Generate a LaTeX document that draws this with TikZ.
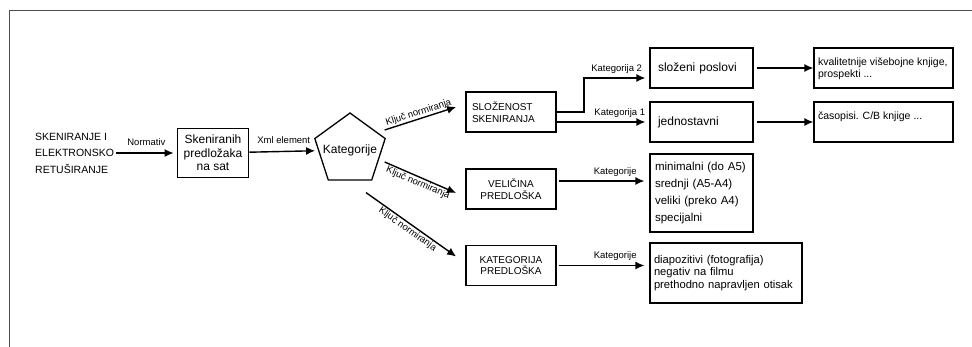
\documentclass[tikz,border=0pt]{standalone}
\usepackage{fontspec}
\setmainfont{Liberation Sans}
\usetikzlibrary{arrows.meta,shapes.geometric}

\begin{document}
\begin{tikzpicture}[x=1pt,y=-1pt,>={Latex[length=9pt,width=8pt]},
  mainbox/.style={draw,line width=1.8pt,minimum width=90pt,minimum height=40pt,inner sep=2pt,align=center,font=\fontsize{10}{11.5}\selectfont},
  subbox/.style={draw,line width=1.2pt,inner sep=0pt,font=\fontsize{11.5}{16.7}\selectfont},
  flow/.style={->,line width=1.4pt},
  lbl/.style={font=\fontsize{9.5}{11}\selectfont,inner sep=1pt}]
\useasboundingbox (0,0) rectangle (972,347);

% Frame
\draw[line width=0.8pt,black!70] (9,347) -- (9,10) -- (972,10);

% Start and first step
\node[align=left,anchor=west,inner sep=2pt,font=\fontsize{10.5}{16.5}\selectfont] (src) at (33,153) {SKENIRANJE I\\ELEKTRONSKO\\RETUŠIRANJE};
\node[mainbox,minimum width=71pt,minimum height=49pt,font=\fontsize{12}{13.5}\selectfont] (skn) at (213,153) {Skeniranih\\predložaka\\na sat};
\node[draw,line width=1.3pt,regular polygon,regular polygon sides=5,minimum size=74pt,inner sep=0pt,font=\fontsize{12}{14}\selectfont] (kat) at (350,150) {\makebox[0pt]{Kategorije}};

\draw[flow,shorten >=3pt] (src) -- (skn) node[midway,above=6pt,lbl] {Normativ};
\draw[flow,shorten >=3pt] (skn) -- (kat) node[midway,above=6pt,lbl] {Xml element};

% Three keys
\node[mainbox,text width=78pt,align=left] (sl) at (511,112) {SLOŽENOST\\SKENIRANJA};
\node[mainbox] (ve) at (511,189) {VELIČINA\\PREDLOŠKA};
\node[mainbox] (kp) at (511,265.5) {KATEGORIJA\\PREDLOŠKA};

\draw[flow] ([xshift=2.5pt,yshift=20pt]kat.east) -- ([xshift=-9pt,yshift=5pt]sl.west) node[midway,above,sloped,lbl] {Ključ normiranja};
\draw[flow] ([xshift=2.5pt,yshift=-12pt]kat.east) -- ([xshift=-9pt,yshift=-4pt]ve.west) node[midway,below,sloped,lbl] {Ključ normiranja};
\draw[flow] ([xshift=16pt,yshift=-12pt]kat.south) -- ([xshift=-9pt,yshift=9pt]kp.west) node[midway,below,sloped,lbl] {Ključ normiranja};

% Categories
\node[subbox,minimum width=103pt,minimum height=40pt,text width=87pt,align=left,font=\fontsize{12}{14}\selectfont] (sp) at (701.5,68) {složeni poslovi};
\node[subbox,minimum width=103pt,minimum height=40pt,text width=87pt,align=left,font=\fontsize{12}{14}\selectfont] (jd) at (701.5,122) {jednostavni};
\node[subbox,minimum width=103pt,minimum height=78pt,text width=93pt,align=left] (mn) at (701.5,193) {minimalni (do A5)\\srednji (A5-A4)\\veliki (preko A4)\\specijalni};
\node[subbox,minimum width=152pt,minimum height=60pt,text width=144pt,align=left,font=\fontsize{11.2}{12.5}\selectfont] (dp) at (726,273) {diapozitivi (fotografija)\\negativ na filmu\\prethodno napravljen otisak};
\node[subbox,inner sep=4pt,font=\fontsize{10.5}{11.5}\selectfont] (kv) at (883.5,68) {\parbox[c][32pt][t]{131pt}{\rule{0pt}{14pt}kvalitetnije višebojne knjige,\\prospekti ...}};
\node[subbox,inner sep=4pt,font=\fontsize{10.5}{11.5}\selectfont] (cs) at (883.5,122) {\parbox[c][32pt][t]{131pt}{\rule{0pt}{13.5pt}časopisi. C/B knjige ...}};

\draw[flow,shorten >=4pt] (sl.east) -- ++(27,0) |- ([yshift=-10pt]sp.west) node[pos=0.75,above=3pt,lbl] {Kategorija 2};
\draw[flow,shorten >=4pt] (sl.east |- jd.west) -- (jd.west) node[pos=0.68,above=3pt,lbl] {Kategorija 1};
\draw[flow,shorten <=3pt] (sp) -- (kv);
\draw[flow,shorten <=3pt] (jd) -- (cs);
\draw[flow,shorten <=2pt,shorten >=5pt] ([yshift=8pt]ve.east) -- ([yshift=8pt]ve.east -| mn.west) node[pos=0.63,above=3pt,lbl] {Kategorije};
\draw[flow,shorten <=2pt,shorten >=5pt] (kp.east) -- (kp.east -| dp.west) node[pos=0.63,above=3pt,lbl] {Kategorije};
\end{tikzpicture}
\end{document}
